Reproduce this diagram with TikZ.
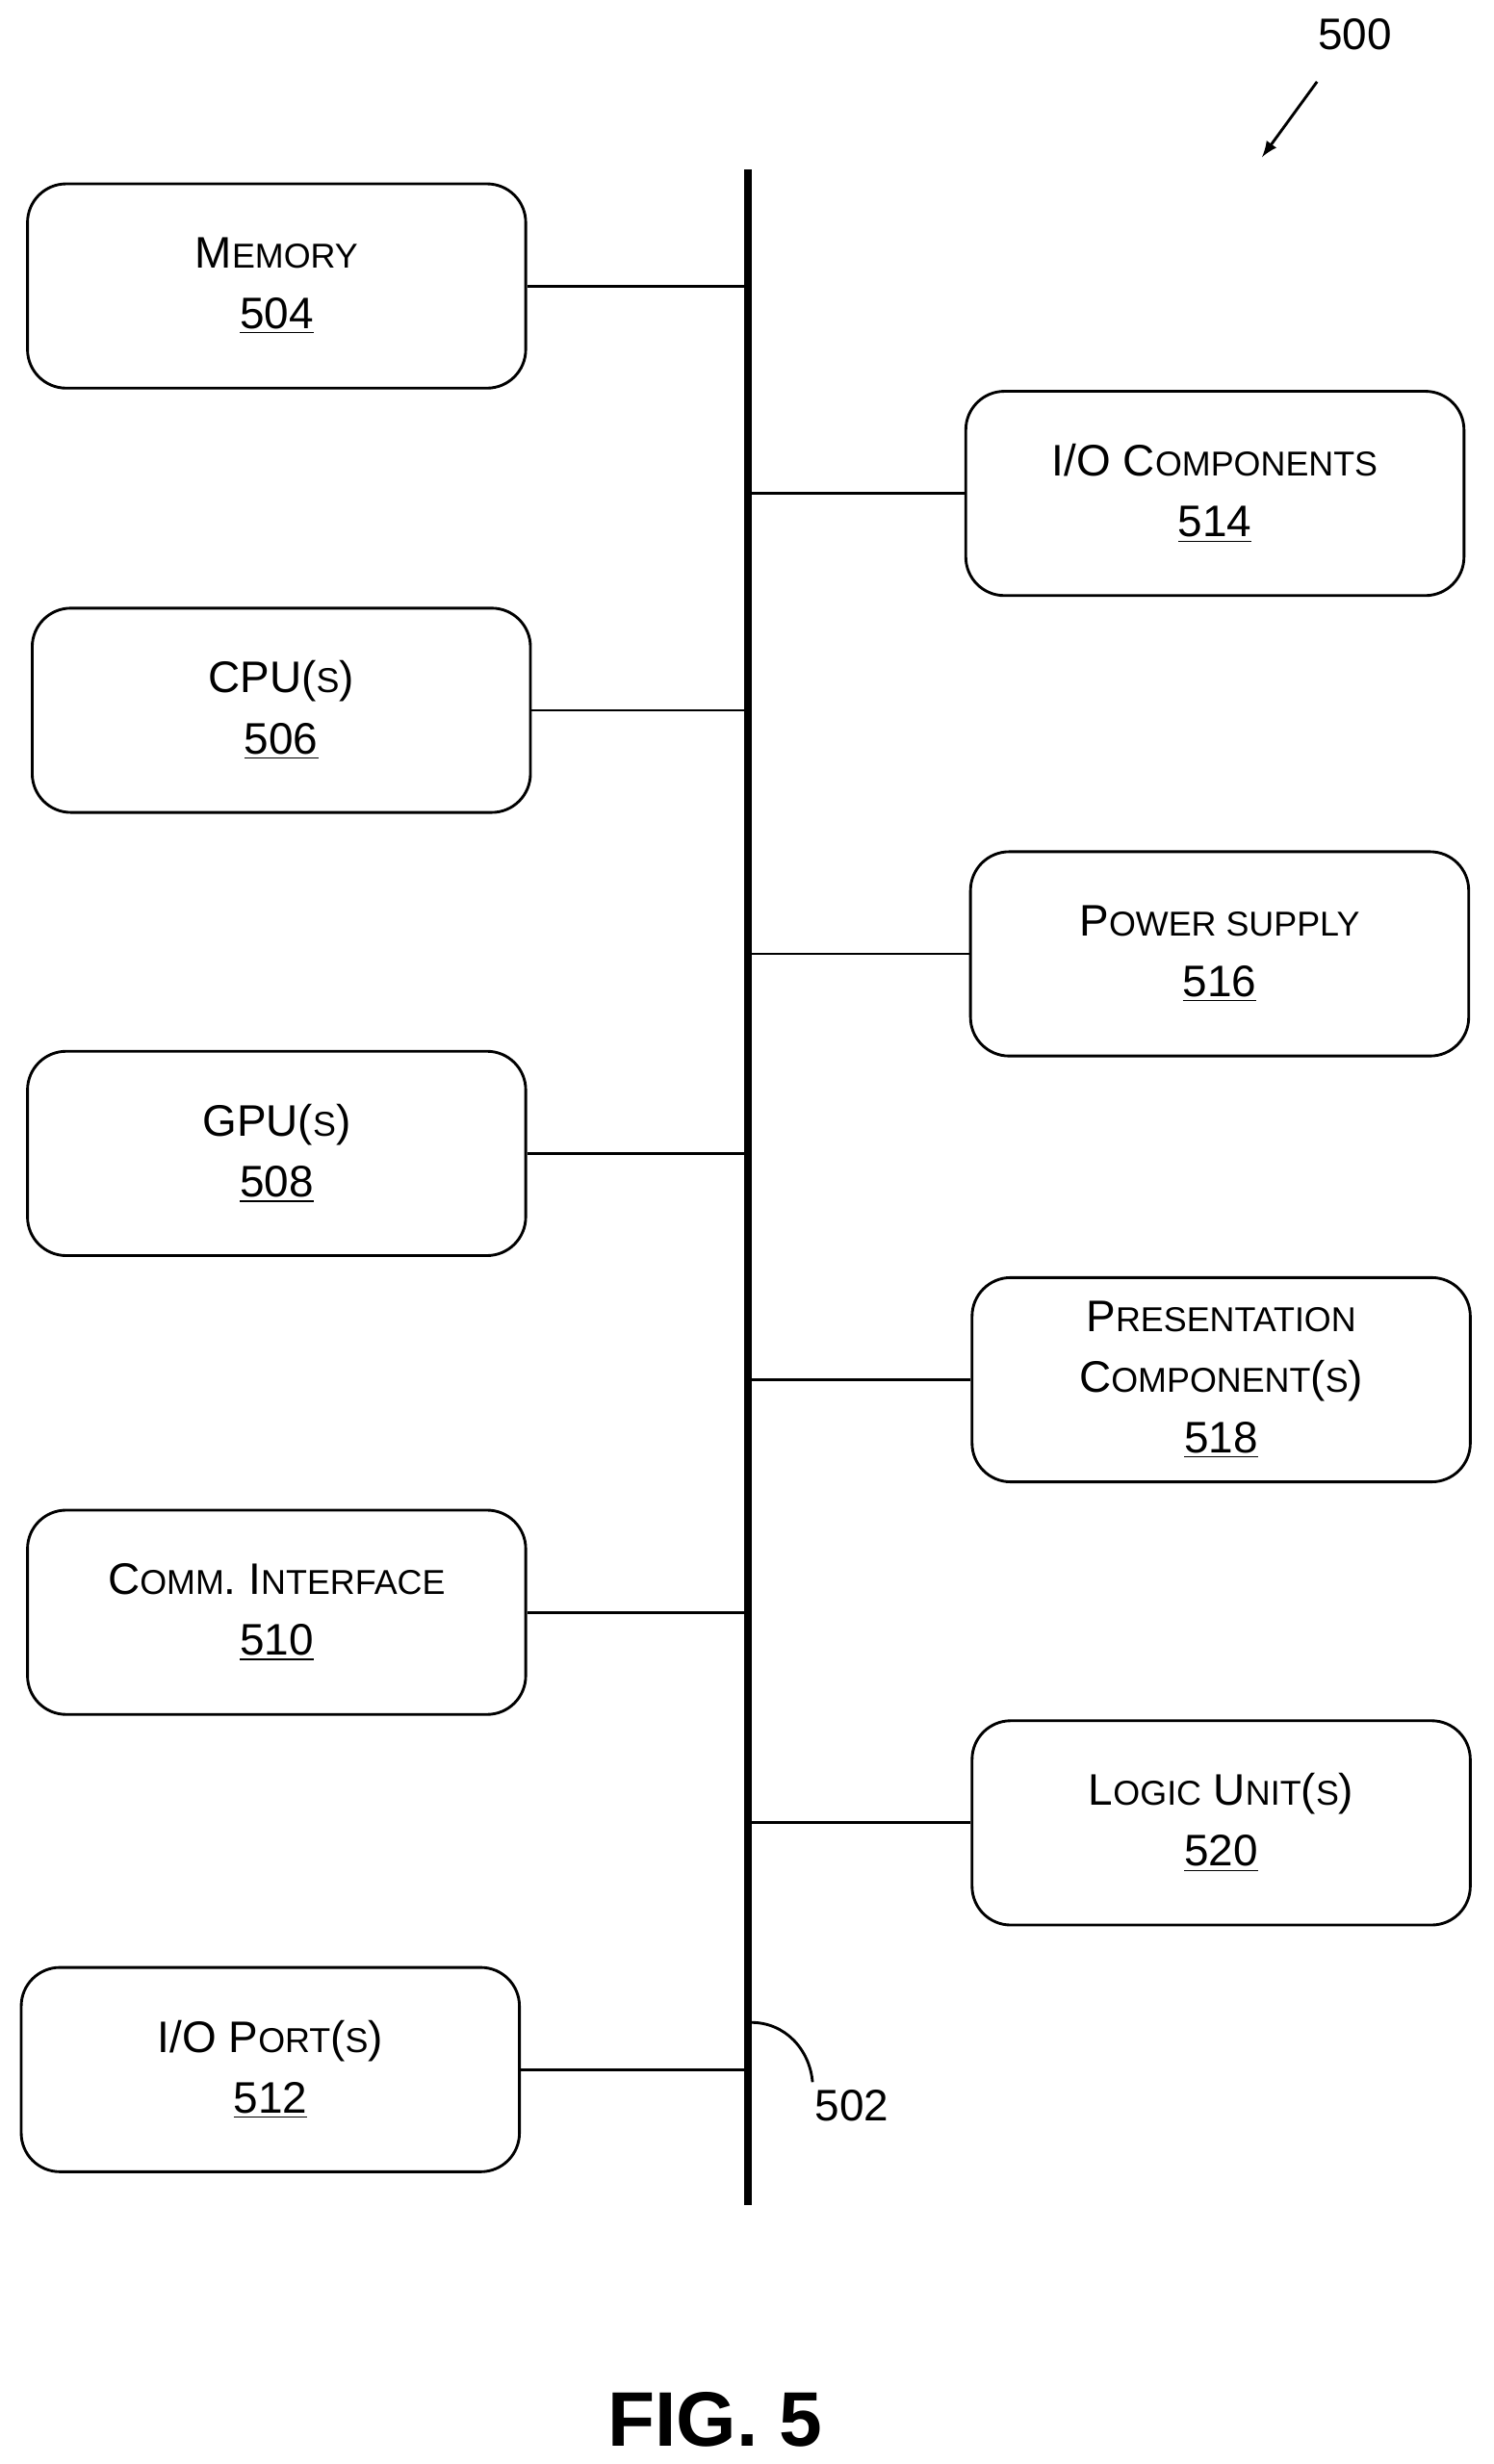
\documentclass[tikz,border=0pt]{standalone}
\usepackage{fontspec}
\setmainfont{Liberation Sans}
\usetikzlibrary{positioning}
\newcommand{\smc}[1]{{\fontsize{12.5}{15}\selectfont #1}}
\tikzset{every picture/.style={/utils/exec={\fontsize{16}{22}\selectfont}}}

\begin{document}
\begin{tikzpicture}[x=0.02cm, y=-0.02cm, thick,
    unit/.style={draw=black, rounded corners=14pt, minimum width=317*0.02cm, minimum height=130*0.02cm, align=center, line width=1pt},
    link/.style={line width=1pt}]
    \useasboundingbox (0,0) rectangle (950,1568);

    % bus
    \coordinate (bustop) at (476,108);
    \coordinate (busbot) at (476,1403);
    \draw[line width=3pt] (bustop) -- (busbot);

    % left side
    \node[unit] (mem) at (176,182) {M\smc{EMORY}\\\underline{504}};
    \node[unit] (cpu) at (179,452) {CPU(\smc{S})\\\underline{506}};
    \node[unit] (gpu) at (176,734) {GPU(\smc{S})\\\underline{508}};
    \node[unit] (comm) at (176,1026) {C\smc{OMM}. I\smc{NTERFACE}\\\underline{510}};
    \node[unit] (port) at (172,1317) {I/O P\smc{ORT}(\smc{S})\\\underline{512}};

    % right side
    \node[unit] (ioc) at (773,314) {I/O C\smc{OMPONENTS}\\\underline{514}};
    \node[unit] (pwr) at (776,607) {P\smc{OWER SUPPLY}\\\underline{516}};
    \node[unit] (pres) at (777,878) {P\smc{RESENTATION}\\C\smc{OMPONENT}(\smc{S})\\\underline{518}};
    \node[unit] (logic) at (777,1160) {L\smc{OGIC} U\smc{NIT}(\smc{S})\\\underline{520}};

    \foreach \n in {mem,cpu,gpu,comm,port}
        \draw[link] (\n.east) -- (\n.east -| bustop);
    \foreach \n in {ioc,pwr,pres,logic}
        \draw[link] (\n.west) -- (\n.west -| bustop);

    % labels
    \coordinate (bustag) at (478,1287);
    \node (l502) at (542,1340) {502};
    \draw[link] (bustag) to[out=0, in=95] (517,1325);
    \node (l500) at (862,22) {500};
    \draw[link, -latex] (838,52) -- (803,100);
    \node (fig) at (455,1540) {\fontsize{28}{32}\selectfont\bfseries FIG. 5};
\end{tikzpicture}
\end{document}
